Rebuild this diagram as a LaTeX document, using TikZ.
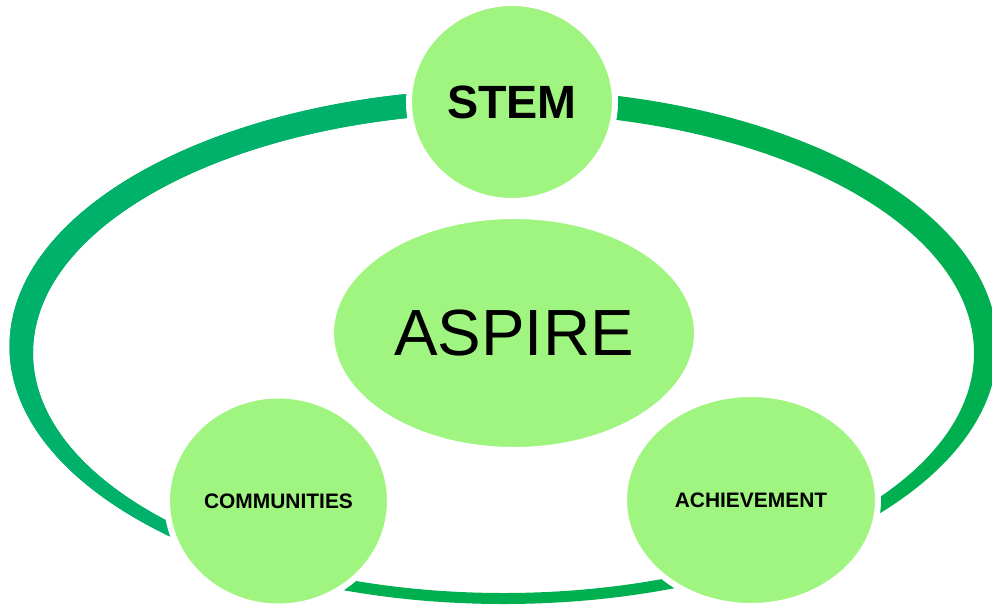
\documentclass[tikz,border=0pt]{standalone}
\usepackage{fontspec}
\setmainfont{Liberation Sans}
\usetikzlibrary{shapes.geometric}
\definecolor{ringteal}{RGB}{0,177,108}
\definecolor{ringgreen}{RGB}{0,176,80}
\definecolor{bubblegreen}{RGB}{160,245,128}
\begin{document}
\begin{tikzpicture}[x=0.75pt,y=-0.75pt,
  bubble/.style={ellipse, fill=bubblegreen, draw=white, line width=6*0.75pt, inner sep=0pt, text=black},
  bigfont/.style={font=\bfseries\fontsize{35}{42}\selectfont},
  hubfont/.style={font=\fontsize{49}{58}\selectfont},
  smallfont/.style={font=\bfseries\fontsize{15.7}{19}\selectfont}]
\useasboundingbox (0,0) rectangle (992,604);
\clip (0,0) rectangle (992,604);
% ring
\fill[ringgreen, even odd rule] (503.5,346.5) ellipse [x radius=494, y radius=257.5]
  (503.5,353) ellipse [x radius=470.5, y radius=240];
\begin{scope}
  \clip (512,-10) -- (512,200) -- (278,502) -- (278,700) -- (-10,700) -- (-10,-10) -- cycle;
  \fill[ringteal, even odd rule] (503.5,346.5) ellipse [x radius=494, y radius=257.5]
    (503.5,353) ellipse [x radius=470.5, y radius=240];
\end{scope}
% bubbles
\node[bubble, bigfont, minimum width=206*0.75pt, minimum height=198*0.75pt] (stem) at (512,102) {STEM};
\node[bubble, hubfont, minimum width=366*0.75pt, minimum height=234*0.75pt] (aspire) at (514,333) {ASPIRE};
\node[bubble, smallfont, minimum width=223*0.75pt, minimum height=211*0.75pt] (comm) at (278.5,501) {COMMUNITIES};
\node[bubble, smallfont, minimum width=254*0.75pt, minimum height=212*0.75pt] (ach) at (751,500) {ACHIEVEMENT};
\end{tikzpicture}
\end{document}
